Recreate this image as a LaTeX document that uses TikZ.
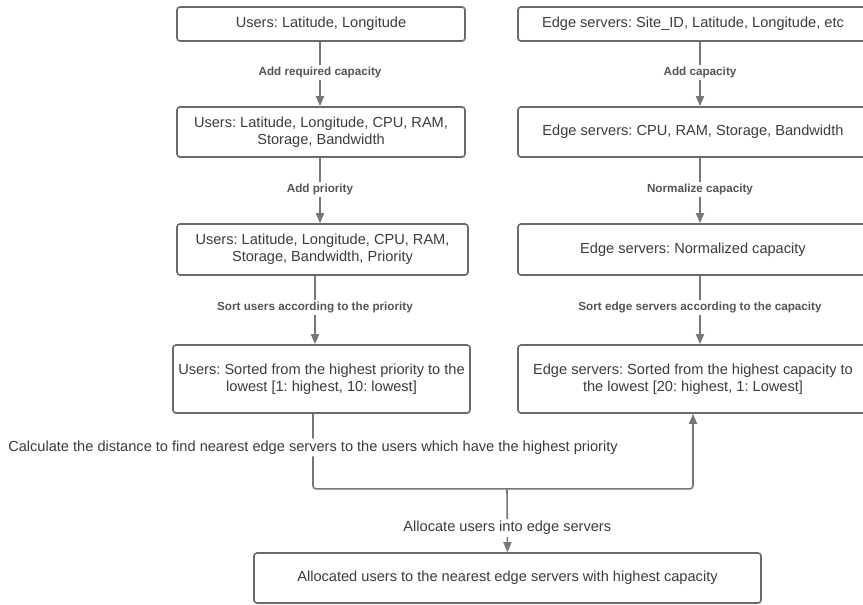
\documentclass[tikz,border=0pt]{standalone}
\usepackage{fontspec}
\setmainfont{Liberation Sans}
\usetikzlibrary{arrows.meta,calc}
\definecolor{boxc}{HTML}{6A6A6A}
\definecolor{linec}{HTML}{777777}
\definecolor{txtc}{HTML}{3C3C3C}
\definecolor{lblc}{HTML}{555555}
\frenchspacing
\begin{document}
\begin{tikzpicture}[x=1pt,y=-1pt,
  box/.style={draw=boxc, line width=1.6pt, rounded corners=3pt, inner sep=0pt,
    text=txtc, font=\fontsize{14.6}{17}\selectfont, align=center},
  conn/.style={draw=linec, line width=1.6pt},
  arr/.style={conn, -{Triangle[width=8pt,length=10pt]}},
  lbl/.style={fill=white, text=lblc, font=\bfseries\fontsize{11.7}{14}\selectfont, inner sep=2pt},
  plbl/.style={fill=white, text=txtc, font=\fontsize{14.6}{17}\selectfont, inner sep=2pt}]
\clip (0,0) rectangle (863,605);
\fill[white] (0,0) rectangle (863,605);
% left column
\node[box, minimum width=288pt, minimum height=34pt] (u1) at (321,24) {Users: Latitude, Longitude};
\node[box, minimum width=288pt, minimum height=50pt] (u2) at (321,132) {Users: Latitude, Longitude, CPU, RAM,\\Storage, Bandwidth};
\node[box, minimum width=291pt, minimum height=51pt] (u3) at (322.5,249.5) {Users: Latitude, Longitude, CPU, RAM,\\Storage, Bandwidth, Priority};
\node[box, minimum width=297pt, minimum height=68pt] (u4) at (321.5,379) {Users: Sorted from the highest priority to the\\lowest [1: highest, 10: lowest]};
% right column
\node[box, minimum width=350pt, minimum height=34pt] (r1) at (693,24) {Edge servers: Site\_ID, Latitude, Longitude, etc};
\node[box, minimum width=350pt, minimum height=50pt] (r2) at (693,132) {Edge servers: CPU, RAM, Storage, Bandwidth};
\node[box, minimum width=350pt, minimum height=51pt] (r3) at (693,249.5) {Edge servers: Normalized capacity};
\node[box, minimum width=350pt, minimum height=68pt] (r4) at (693,379) {Edge servers: Sorted from the highest capacity to\\the lowest [20: highest, 1: Lowest]};
% bottom
\node[box, minimum width=507pt, minimum height=50pt] (b) at (507.5,578) {Allocated users to the nearest edge servers with highest capacity};
% left arrows
\draw[arr] ($(u1.south)+(-1,0)$) -- node[lbl, pos=0.47] {Add required capacity} ($(u2.north)+(-1,0)$);
\draw[arr] ($(u2.south)+(-1,0)$) -- node[lbl, pos=0.48] {Add priority} ($(u3.north)+(-2.5,0)$);
\draw[arr] ($(u3.south)+(-7.5,0)$) -- node[lbl, pos=0.46] {Sort users according to the priority} ($(u4.north)+(-6.5,0)$);
% right arrows
\draw[arr] ($(r1.south)+(7,0)$) -- node[lbl, pos=0.47] {Add capacity} ($(r2.north)+(7,0)$);
\draw[arr] ($(r2.south)+(7,0)$) -- node[lbl, pos=0.48] {Normalize capacity} ($(r3.north)+(7,0)$);
\draw[arr] ($(r3.south)+(7,0)$) -- node[lbl, pos=0.46] {Sort edge servers according to the capacity} ($(r4.north)+(7,0)$);
% bottom connectors
\coordinate (j) at (507,488);
\draw[arr, rounded corners=3pt] ($(u4.south)+(-8.5,0)$) -- node[plbl, pos=0.45] {Calculate the distance to find nearest edge servers to the users which have the highest priority} ++(0,75) -| (r4.south);
\draw[arr] (j) -- node[plbl, pos=0.62] {Allocate users into edge servers} (b.north);
\end{tikzpicture}
\end{document}
